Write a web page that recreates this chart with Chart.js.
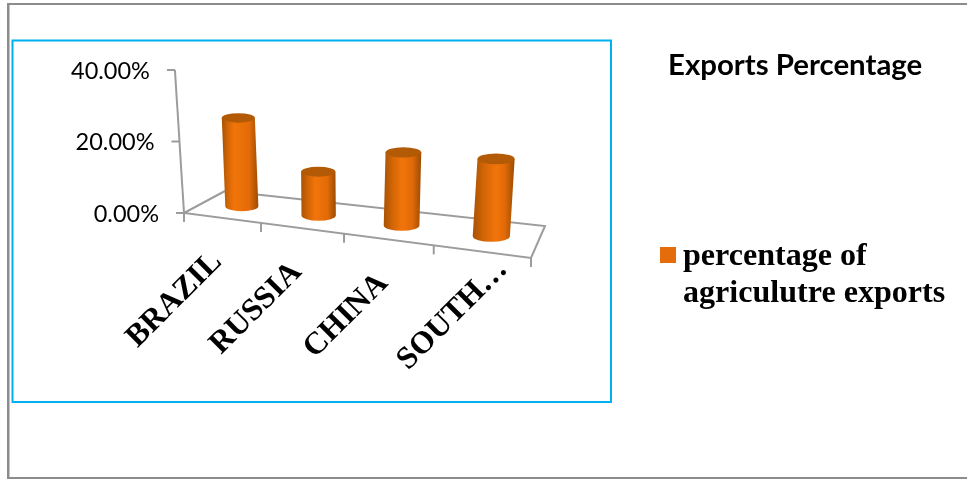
<!DOCTYPE html>
<html>
<head>
<meta charset="utf-8">
<title>Exports Percentage</title>
<script src="https://cdn.jsdelivr.net/npm/chart.js@4"></script>
<style>
  html, body { margin: 0; padding: 0; background: #fff; }
  canvas { display: block; }
</style>
</head>
<body>
<canvas id="exportsChart" width="967" height="479"></canvas>
<script>
const countries = ['BRAZIL', 'RUSSIA', 'CHINA', 'SOUTH…'];
const agriExports = [25.3, 12.1, 19.4, 19.7];
const seriesName = 'percentage of agriculutre exports';
const legendLines = ['percentage of', 'agriculutre exports'];
const chartTitle = 'Exports Percentage';

const AXIS_GREY = '#9c9c9c';
const SERIES_ORANGE = '#e46c0a';
const PERSPECTIVE = -0.144;
const LEAN_RATE = 0.000406;
const VANISH_X = 340;

const lerp = (a, b, t) => [a[0] + (b[0] - a[0]) * t, a[1] + (b[1] - a[1]) * t];

// floor of the 3D box, u runs along the categories, d runs front to back
function floorPoint(x, y, u, d) {
  const fl = [x.left, y.bottom];
  const fr = [x.right, y.bottom + 45];
  const bl = [x.left + 41, y.bottom - 22];
  const br = [x.right + 14, y.bottom + 13];
  const pu = u * (1 + PERSPECTIVE) / (1 + PERSPECTIVE * u);
  return lerp(lerp(fl, fr, pu), lerp(bl, br, pu), d);
}

function depthScale(u, d) {
  return (1 / (1 + PERSPECTIVE * u)) * (1 - 0.08 * d);
}

function line(ctx, x0, y0, x1, y1) {
  ctx.beginPath();
  ctx.moveTo(x0, y0);
  ctx.lineTo(x1, y1);
  ctx.stroke();
}

function drawFrames(ctx) {
  ctx.fillStyle = '#fff';
  ctx.fillRect(0, 0, 967, 479);
  ctx.strokeStyle = '#c4c4c4';
  ctx.lineWidth = 1;
  line(ctx, 9.5, 4, 9.5, 477);
  ctx.strokeStyle = '#8c8c8c';
  ctx.lineWidth = 2;
  ctx.beginPath();
  ctx.moveTo(967, 4);
  ctx.lineTo(8, 4);
  ctx.lineTo(8, 478);
  ctx.lineTo(967, 478);
  ctx.stroke();
  ctx.strokeStyle = '#00b0f0';
  ctx.strokeRect(12.5, 40.5, 598.5, 361.5);
}

function drawAxes(ctx, x, y) {
  const fl = floorPoint(x, y, 0, 0);
  const fr = floorPoint(x, y, 1, 0);
  const bl = floorPoint(x, y, 0, 1);
  const br = floorPoint(x, y, 1, 1);
  ctx.strokeStyle = AXIS_GREY;
  ctx.lineWidth = 2;
  ctx.beginPath();
  ctx.moveTo(bl[0], bl[1]);
  ctx.lineTo(fl[0], fl[1]);
  ctx.lineTo(fr[0], fr[1]);
  ctx.lineTo(br[0], br[1]);
  ctx.lineTo(bl[0], bl[1]);
  ctx.stroke();

  // value axis leans towards the vanishing point
  const axisAt = v => {
    const h = y.getPixelForValue(0) - y.getPixelForValue(v);
    return [fl[0] + (fl[0] - VANISH_X) * LEAN_RATE * h, fl[1] - h];
  };
  const top = axisAt(y.max);
  line(ctx, fl[0], fl[1], top[0], top[1]);
  ctx.font = '23.5px Lato';
  ctx.fillStyle = '#000';
  ctx.textAlign = 'right';
  ctx.textBaseline = 'middle';
  y.ticks.forEach(t => {
    const p = axisAt(t.value);
    line(ctx, p[0] - 8, p[1], p[0], p[1]);
    ctx.fillText(t.label, p[0] - 25, p[1] + 1);
  });

  // category ticks hang under the front edge
  for (let i = 0; i <= countries.length; i++) {
    const p = floorPoint(x, y, i / countries.length, 0);
    line(ctx, p[0], p[1], p[0], p[1] + 9);
  }
}

function drawCylinder(ctx, base, top, rx, u) {
  const ryBase = rx * 0.3;
  const ryTop = rx * 0.29;
  const glow = 0.3 + 0.3 * u;
  const shade = ctx.createLinearGradient(Math.min(base[0], top[0]) - rx, 0, Math.max(base[0], top[0]) + rx, 0);
  shade.addColorStop(0, '#a85204');
  shade.addColorStop(glow * 0.5, '#d46606');
  shade.addColorStop(glow, '#f2750a');
  shade.addColorStop(0.76, '#e26a08');
  shade.addColorStop(1, '#9c4c04');
  ctx.fillStyle = shade;
  ctx.beginPath();
  ctx.moveTo(top[0] - rx, top[1]);
  ctx.lineTo(base[0] - rx, base[1]);
  ctx.ellipse(base[0], base[1], rx, ryBase, 0, Math.PI, 0, true);
  ctx.lineTo(top[0] + rx, top[1]);
  ctx.closePath();
  ctx.fill();
  ctx.fillStyle = '#b35a06';
  ctx.beginPath();
  ctx.ellipse(top[0], top[1], rx, ryTop, 0, 0, Math.PI * 2);
  ctx.fill();
}

function drawCategoryLabels(ctx, x, y) {
  // the clipped last label runs further along its own slant, past the tick
  const slide = [0, 0, 0, 37];
  ctx.font = 'bold 31.5px "Liberation Serif"';
  ctx.fillStyle = '#000';
  ctx.textAlign = 'right';
  ctx.textBaseline = 'alphabetic';
  x.ticks.forEach((t, i) => {
    const u = (x.getPixelForValue(i) - x.left) / x.width;
    const p = floorPoint(x, y, u, 0);
    ctx.save();
    ctx.translate(p[0] + 1, p[1] + 45);
    ctx.rotate(-Math.PI / 4);
    ctx.fillText(t.label, slide[i], 0);
    ctx.restore();
  });
}

function drawTitleAndLegend(ctx) {
  ctx.fillStyle = '#000';
  ctx.textAlign = 'left';
  ctx.textBaseline = 'alphabetic';
  ctx.font = 'bold 29.4px Lato';
  ctx.fillText(chartTitle, 668, 75);
  ctx.fillStyle = SERIES_ORANGE;
  ctx.fillRect(660, 247, 16, 16);
  ctx.fillStyle = '#000';
  ctx.font = 'bold 32.1px "Liberation Serif"';
  legendLines.forEach((text, i) => ctx.fillText(text, 683, 265 + i * 37));
}

const cylinderPlugin = {
  id: 'cylinders',
  beforeDraw(chart) {
    drawFrames(chart.ctx);
  },
  afterDatasetsDraw(chart) {
    const { ctx, scales: { x, y } } = chart;
    ctx.save();
    drawAxes(ctx, x, y);
    chart.getDatasetMeta(0).data.forEach((bar, i) => {
      const u = (bar.x - x.left) / x.width;
      const k = depthScale(u, 0.5);
      const base = floorPoint(x, y, u, 0.5);
      base[0] += 1;
      const h = (y.getPixelForValue(0) - bar.y) * k;
      const top = [base[0] + (base[0] - VANISH_X) * LEAN_RATE * h, base[1] - h];
      drawCylinder(ctx, base, top, bar.width / 2 * k, u);
    });
    drawCategoryLabels(ctx, x, y);
    drawTitleAndLegend(ctx);
    ctx.restore();
  }
};

new Chart(document.getElementById('exportsChart').getContext('2d'), {
  type: 'bar',
  data: {
    labels: countries,
    datasets: [{
      label: seriesName,
      data: agriExports,
      backgroundColor: 'rgba(0,0,0,0)',
      barPercentage: 0.39,
      categoryPercentage: 1
    }]
  },
  options: {
    responsive: false,
    animation: false,
    layout: { padding: { left: 184, right: 436, top: 70, bottom: 266 } },
    plugins: { legend: { display: false }, tooltip: { enabled: false } },
    scales: {
      x: { display: false, offset: true, ticks: { autoSkip: false } },
      y: {
        display: false,
        min: 0,
        max: 40,
        ticks: { stepSize: 20, callback: v => v.toFixed(2) + '%' }
      }
    }
  },
  plugins: [cylinderPlugin]
});
</script>
</body>
</html>
